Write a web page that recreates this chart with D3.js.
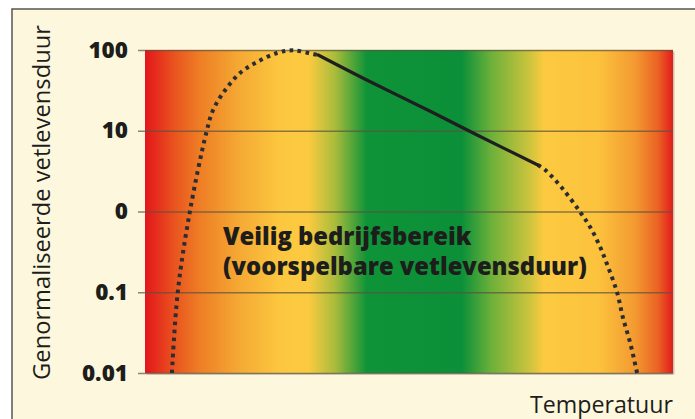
<!DOCTYPE html>
<html>
<head>
<meta charset="utf-8">
<script src="https://cdn.jsdelivr.net/npm/d3@7"></script>
<style>
  html, body { margin: 0; padding: 0; background: #ffffff; }
  svg { display: block; }
  text { font-family: "Open Sans", "Noto Sans", sans-serif; fill: #1d1d1b; }
</style>
</head>
<body>
<svg id="chart" width="695" height="419"></svg>
<script>
// ---- data ----
const yTickValues = [100, 10, 1, 0.1, 0.01];
const yTickLabels = ["100", "10", "0", "0.1", "0.01"];

// rising (dotted) branch: temperature (relative units) vs normalised grease life
const riseTemp = [5.1, 6.2, 8.5, 11.6, 12.9, 15.2, 18.0, 21.2, 25.0, 28.0, 31.8, 32.8];
const riseLife = [0.01, 0.1, 1, 9.4, 18.1, 32, 51.9, 71, 91.8, 99, 89, 86.7];

// safe operating range (solid)
const safeTemp = [32.8, 42.0, 54.5, 62.9, 74.4];
const safeLife = [86.7, 42.5, 16.8, 8.86, 3.77];

// falling (dotted) branch
const fallTemp = [74.4, 75.8, 79.0, 82.4, 84.3, 86.2, 87.7, 89.4, 90.5, 91.9, 93.2];
const fallLife = [3.77, 3.27, 1.95, 0.986, 0.643, 0.363, 0.206, 0.1, 0.049, 0.0235, 0.01];

// temperature-zone colour band (offset along axis, colour)
const zoneOffsets = [0, 0.057, 0.104, 0.18, 0.256, 0.31, 0.36, 0.42, 0.6, 0.655, 0.73, 0.755, 0.86, 0.928, 0.972, 1];
const zoneColors  = ["#e3161b", "#e9551f", "#ee7e25", "#f5aa34", "#fcc73f", "#fbca40", "#a9bc3b", "#0e9338",
                     "#0b9039", "#6bb03a", "#cfc43d", "#fcca40", "#fcc23d", "#f39a31", "#eb6124", "#e31b1b"];

const titleY = "Genormaliseerde vetlevensduur";
const titleX = "Temperatuur";
const noteLines = ["Veilig bedrijfsbereik", "(voorspelbare vetlevensduur)"];

// ---- layout ----
const svg = d3.select("#chart");
const W = 695, H = 419;
const plot = { left: 145, right: 673, top: 50, bottom: 373 };

// frame
svg.append("rect").attr("x", 12).attr("y", 9).attr("width", W).attr("height", H)
  .attr("fill", "#fdf8dd").attr("stroke", "#4a4a48").attr("stroke-width", 1.4);

const x = d3.scaleLinear().domain([0, 100]).range([plot.left, plot.right]);
const y = d3.scaleLog().domain([0.01, 100]).range([plot.bottom, plot.top]);

// gradient
const defs = svg.append("defs");
const grad = defs.append("linearGradient").attr("id", "zone")
  .attr("gradientUnits", "userSpaceOnUse")
  .attr("x1", plot.left).attr("x2", plot.right).attr("y1", 0).attr("y2", 0);
grad.selectAll("stop").data(zoneOffsets).join("stop")
  .attr("offset", d => d)
  .attr("stop-color", (d, i) => zoneColors[i]);

// shadow
svg.append("rect")
  .attr("x", plot.left + 1.5).attr("y", plot.top + 1.5)
  .attr("width", plot.right - plot.left).attr("height", plot.bottom - plot.top)
  .attr("fill", "#9a9a90").attr("opacity", 0.55);
svg.append("rect")
  .attr("x", plot.left).attr("y", plot.top)
  .attr("width", plot.right - plot.left).attr("height", plot.bottom - plot.top)
  .attr("fill", "url(#zone)");

// y axis with gridlines
const yAxis = d3.axisLeft(y)
  .tickValues(yTickValues)
  .tickFormat((d, i) => yTickLabels[i])
  .tickSize(-(plot.right - plot.left) - 7)
  .tickPadding(10);
const gy = svg.append("g").attr("transform", `translate(${plot.right},0)`).call(yAxis);
gy.select(".domain").remove();
gy.selectAll(".tick line")
  .attr("x1", 0).attr("x2", -(plot.right - plot.left) - 7)
  .attr("stroke", "#5b5240").attr("stroke-opacity", 0.7).attr("stroke-width", 1.5);
gy.selectAll(".tick text")
  .attr("x", -(plot.right - plot.left) - 17)
  .attr("font-size", 22.5).attr("font-weight", 700)
  .attr("font-family", "Lato, \"Open Sans\", sans-serif")
  .style("font-weight", 800)
  .attr("fill", "#1d1d1b");

// curves
const line = d3.line()
  .x(d => x(d[0])).y(d => y(d[1]))
  .curve(d3.curveCatmullRom.alpha(0.5));

const rise = riseTemp.map((t, i) => [t, riseLife[i]]);
const safe = safeTemp.map((t, i) => [t, safeLife[i]]);
const fall = fallTemp.map((t, i) => [t, fallLife[i]]);

svg.append("path").attr("d", line(rise)).attr("fill", "none")
  .attr("stroke", "#2a2d33").attr("stroke-width", 4).attr("stroke-dasharray", "3.6,4.4");
svg.append("path").attr("d", line(fall)).attr("fill", "none")
  .attr("stroke", "#2a2d33").attr("stroke-width", 4).attr("stroke-dasharray", "3.6,4.4");
svg.append("path").attr("d", line(safe)).attr("fill", "none")
  .attr("stroke", "#1f1f1f").attr("stroke-width", 3.2).attr("stroke-linecap", "round");

// helper to fit text to a measured width
function fit(sel, target) {
  const w = sel.node().getComputedTextLength();
  const fs = parseFloat(sel.attr("font-size"));
  sel.attr("font-size", fs * target / w);
}

// note text
const n1 = svg.append("text").attr("x", 223).attr("y", 245)
  .attr("font-family", "Lato, \"Open Sans\", sans-serif").style("font-weight", 900)
  .attr("font-size", 22).text(noteLines[0]);
const n2 = svg.append("text").attr("x", 223).attr("y", 275)
  .attr("font-family", "Lato, \"Open Sans\", sans-serif").style("font-weight", 900)
  .attr("font-size", 22).text(noteLines[1]);
fit(n2, 364);
n1.attr("font-size", n2.attr("font-size"));

// axis titles
const tx = svg.append("text").attr("x", 673).attr("y", 413)
  .attr("text-anchor", "end").attr("font-size", 21).text(titleX);
fit(tx, 143);

const ty = svg.append("text")
  .attr("transform", `translate(50,${(25 + 380) / 2}) rotate(-90)`)
  .attr("text-anchor", "middle").attr("font-size", 21).text(titleY);
fit(ty, 355);
</script>
</body>
</html>
